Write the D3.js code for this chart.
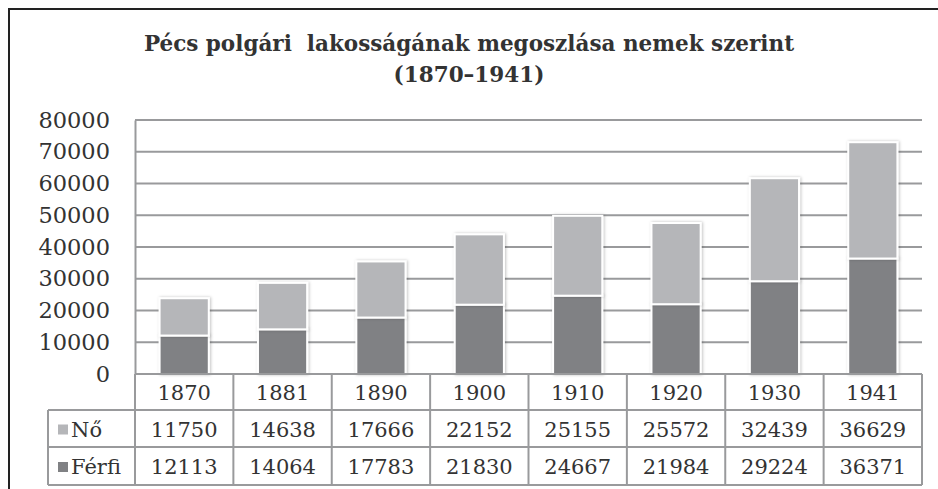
<!DOCTYPE html>
<html>
<head>
<meta charset="utf-8">
<script src="https://cdn.jsdelivr.net/npm/d3@7"></script>
<style>
  html, body { margin: 0; padding: 0; background: #fff; }
  svg { display: block; }
</style>
</head>
<body>
<div id="chart"></div>
<script>
// data
var years = ["1870", "1881", "1890", "1900", "1910", "1920", "1930", "1941"];
var noValues = [11750, 14638, 17666, 22152, 25155, 25572, 32439, 36629];
var ferfiValues = [12113, 14064, 17783, 21830, 24667, 21984, 29224, 36371];
var yTicks = [0, 10000, 20000, 30000, 40000, 50000, 60000, 70000, 80000];
var seriesNames = ["Nő", "Férfi"];
var titleLines = ["Pécs polgári  lakosságának megoszlása nemek szerint", "(1870–1941)"];

var W = 938, H = 489;
var font = "'DejaVu Serif', 'Liberation Serif', serif";
var colNo = "#b5b6b9", colFerfi = "#808184", lineCol = "#999a9c", textCol = "#333";

var area = { left: 135, right: 922, top: 120, bottom: 374 };
var rowH = [374, 410, 447, 485];
var legendLeft = 48;

var svg = d3.select("#chart").append("svg")
    .attr("width", W)
    .attr("height", H);

var defs = svg.append("defs");
var shadow = defs.append("filter").attr("id", "shadow")
    .attr("x", "-20%").attr("y", "-10%").attr("width", "140%").attr("height", "120%");
shadow.append("feDropShadow")
    .attr("dx", 1).attr("dy", 0).attr("stdDeviation", 1.5)
    .attr("flood-color", "#000").attr("flood-opacity", 0.25);

// outer frame
svg.append("path")
    .attr("d", "M9,489 V9 H938")
    .attr("fill", "none")
    .attr("stroke", "#222")
    .attr("stroke-width", 2);

// title
svg.append("g").selectAll("text")
    .data(titleLines)
    .enter().append("text")
    .attr("x", 469)
    .attr("y", function(d, i) { return 51 + i * 31; })
    .attr("text-anchor", "middle")
    .style("white-space", "pre")
    .style("font-family", font)
    .style("font-weight", "bold")
    .style("font-size", "21.5px")
    .style("fill", textCol)
    .text(function(d) { return d; });

// scales
var xScale = d3.scaleBand().domain(years).range([area.left, area.right]).paddingInner(0).paddingOuter(0);
var yScale = d3.scaleLinear().domain([0, 80000]).range([area.bottom, area.top]);
var barW = xScale.bandwidth() * 0.5;

// grid lines
var grid = svg.append("g").attr("class", "grid");
grid.selectAll("line")
    .data(yTicks.filter(function(d) { return d > 0; }))
    .enter().append("line")
    .attr("x1", area.left).attr("x2", area.right)
    .attr("y1", function(d) { return yScale(d); })
    .attr("y2", function(d) { return yScale(d); })
    .attr("stroke", lineCol)
    .attr("stroke-width", 2);

// y axis
var yAxis = svg.append("g")
    .attr("transform", "translate(" + area.left + ",0)")
    .call(d3.axisLeft(yScale).tickValues(yTicks).tickSize(0).tickPadding(25).tickFormat(d3.format("d")));
yAxis.select(".domain").attr("stroke", lineCol).attr("stroke-width", 2);
yAxis.selectAll("text")
    .style("font-family", font)
    .style("font-size", "22.5px")
    .style("fill", textCol);

// stacked bars
var stackData = years.map(function(y, i) {
    return { year: y, "Férfi": ferfiValues[i], "Nő": noValues[i] };
});
var stack = d3.stack().keys(["Férfi", "Nő"])(stackData);
var colorScale = d3.scaleOrdinal().domain(["Nő", "Férfi"]).range([colNo, colFerfi]);

var bars = svg.append("g").attr("class", "bars");
bars.selectAll("g")
    .data(stack)
    .enter().append("g")
    .attr("fill", function(d) { return colorScale(d.key); })
    .selectAll("rect")
    .data(function(d) { return d; })
    .enter().append("rect")
    .attr("x", function(d) { return xScale(d.data.year) + (xScale.bandwidth() - barW) / 2; })
    .attr("y", function(d) { return yScale(d[1]); })
    .attr("width", barW)
    .attr("height", function(d) { return yScale(d[0]) - yScale(d[1]); })
    .attr("stroke", "#fff")
    .attr("stroke-width", 2)
    .attr("filter", "url(#shadow)");

// data table
var table = svg.append("g").attr("class", "table");
var hLines = [
    { x1: area.left, x2: area.right, y: rowH[0] },
    { x1: legendLeft, x2: area.right, y: rowH[1] },
    { x1: legendLeft, x2: area.right, y: rowH[2] },
    { x1: legendLeft, x2: area.right, y: rowH[3] }
];
table.selectAll(".hline")
    .data(hLines)
    .enter().append("line")
    .attr("class", "hline")
    .attr("x1", function(d) { return d.x1; })
    .attr("x2", function(d) { return d.x2; })
    .attr("y1", function(d) { return d.y; })
    .attr("y2", function(d) { return d.y; })
    .attr("stroke", lineCol)
    .attr("stroke-width", 2);

var vx = years.map(function(y) { return xScale(y); }).concat([area.right]);
table.selectAll(".vline")
    .data(vx)
    .enter().append("line")
    .attr("class", "vline")
    .attr("x1", function(d) { return d; })
    .attr("x2", function(d) { return d; })
    .attr("y1", rowH[0])
    .attr("y2", rowH[3])
    .attr("stroke", lineCol)
    .attr("stroke-width", 2);
table.append("line")
    .attr("x1", legendLeft).attr("x2", legendLeft)
    .attr("y1", rowH[1]).attr("y2", rowH[3])
    .attr("stroke", lineCol)
    .attr("stroke-width", 2);

function cellText(sel) {
    sel.attr("text-anchor", "middle")
        .attr("dominant-baseline", "central")
        .style("font-family", font)
        .style("font-size", "21px")
        .style("fill", textCol);
}

table.selectAll(".yearLabel")
    .data(years)
    .enter().append("text")
    .attr("class", "yearLabel")
    .attr("x", function(d) { return xScale(d) + xScale.bandwidth() / 2; })
    .attr("y", (rowH[0] + rowH[1]) / 2 + 1)
    .text(function(d) { return d; })
    .call(cellText);

var rows = [noValues, ferfiValues];
rows.forEach(function(vals, r) {
    var cy = (rowH[r + 1] + rowH[r + 2]) / 2 + 1;
    table.selectAll(".val" + r)
        .data(vals)
        .enter().append("text")
        .attr("class", "val" + r)
        .attr("x", function(d, i) { return xScale(years[i]) + xScale.bandwidth() / 2; })
        .attr("y", cy)
        .text(function(d) { return d; })
        .call(cellText);

    // legend key
    table.append("rect")
        .attr("x", 58)
        .attr("y", cy - 5)
        .attr("width", 10)
        .attr("height", 10)
        .attr("fill", colorScale(seriesNames[r]));
    table.append("text")
        .attr("x", 71)
        .attr("y", cy)
        .attr("dominant-baseline", "central")
        .style("font-family", font)
        .style("font-size", "21px")
        .style("fill", textCol)
        .text(seriesNames[r]);
});
</script>
</body>
</html>
